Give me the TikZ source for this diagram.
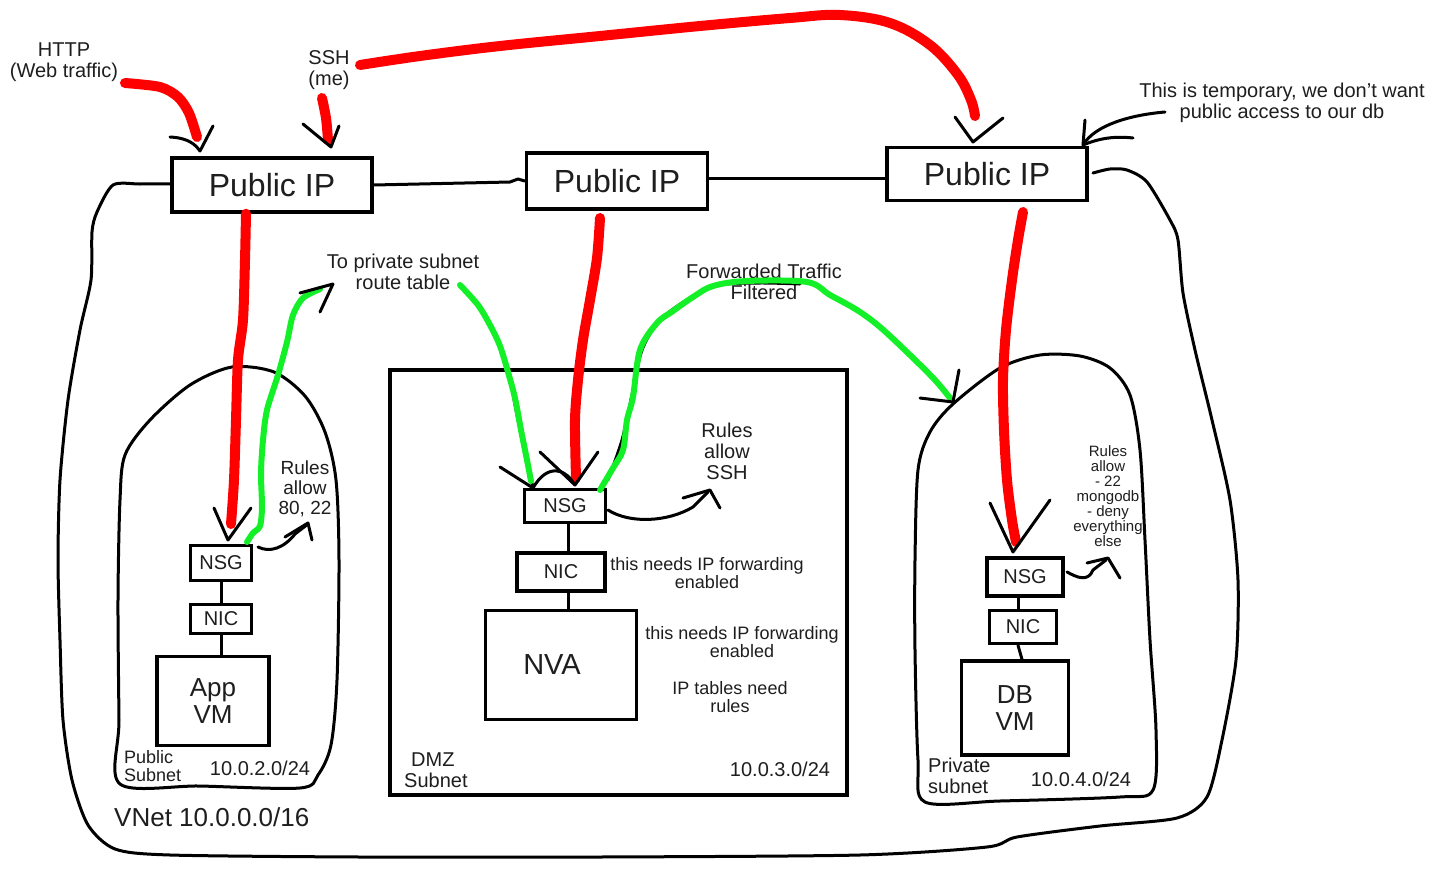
\documentclass[tikz,border=0pt]{standalone}
\usepackage{fontspec}
\setmainfont{Liberation Sans}
\definecolor{handgreen}{RGB}{20,240,40}
\definecolor{ink}{RGB}{30,30,30}
\tikzset{
  box/.style={draw, line width=3.5pt, inner sep=0pt, align=center, text=ink},
  pen/.style={line width=3pt, line cap=round, line join=round},
  redpen/.style={draw=red, line width=10pt, line cap=round, line join=round},
  greenpen/.style={draw=handgreen, line width=6pt, line cap=round, line join=round},
  lbl/.style={align=center, text=ink, inner sep=0pt},
  f32/.style={font=\fontsize{32}{34}\selectfont},
  f26/.style={font=\fontsize{26}{27}\selectfont},
  f29/.style={font=\fontsize{29}{30}\selectfont},
  f20/.style={font=\fontsize{20}{21}\selectfont},
  f19/.style={font=\fontsize{19}{20}\selectfont},
  f18/.style={font=\fontsize{18}{18}\selectfont},
  f15/.style={font=\fontsize{15}{15}\selectfont},
}
\begin{document}
\begin{tikzpicture}[x=1pt,y=-1pt]
\useasboundingbox[fill=white] (0,0) rectangle (1452,881);

% ---------- boxes ----------
\node[box,f32,minimum width=200pt,minimum height=54pt] (pip1) at (272,185) {Public IP};
\node[box,f32,minimum width=181pt,minimum height=56pt] (pip2) at (617,181) {Public IP};
\node[box,f32,minimum width=200pt,minimum height=53pt] (pip3) at (987,174) {Public IP};

\node[box,f20,minimum width=61pt,minimum height=35pt] (nsg1) at (221,563) {NSG};
\node[box,f20,minimum width=61pt,minimum height=29pt] (nic1) at (221,619) {NIC};
\node[box,f26,minimum width=112pt,minimum height=89pt] (vm1) at (213,701) {App\\VM};

\node[draw, line width=3.5pt, minimum width=457pt, minimum height=425pt, inner sep=0pt] (dmz) at (618.5,582.5) {};
\node[box,f20,minimum width=81pt,minimum height=33pt] (nsg2) at (565,506) {NSG};
\node[box,f20,minimum width=88pt,minimum height=38pt] (nic2) at (561,572) {NIC};
\node[box,f29,minimum width=151pt,minimum height=109pt] (nva) at (561,665) {NVA\hspace{18pt}};

\node[box,f20,minimum width=76pt,minimum height=38pt] (nsg3) at (1025,577) {NSG};
\node[box,f20,minimum width=67pt,minimum height=33pt] (nic3) at (1023,627) {NIC};
\node[box,f26,minimum width=107pt,minimum height=94pt] (vm3) at (1015,708) {DB\\VM};

% ---------- links between boxes ----------
\draw[pen] (pip1.east) -- (510,182) -- (518,179) -- (pip2.west);
\draw[pen] (pip2.east |- 0,178) -- (pip3.west |- 0,178);
\draw[pen] (nsg1) -- (nic1);
\draw[pen] (nic1) -- (vm1.north -| nic1);
\draw[pen] (nsg2.south -| 568,0) -- (nic2.north -| 568,0);
\draw[pen] (nic2.south -| 568,0) -- (nva.north -| 568,0);
\draw[pen] (nsg3.south -| 1018,0) -- (nic3.north -| 1018,0);
\draw[pen] (nic3.south -| 1018,0) -- (vm3.north -| 1022,0);

% ---------- VNet outline ----------
\coordinate (vstart) at (172,184);
\coordinate (vend) at (1093,173);
\draw[pen] plot[smooth,tension=0.45] coordinates {
  (vstart) (140,184) (113,185) (97,212) (92,232) (91,280) (80,330) (68,400) (60,480) (58,560)
  (60,640) (63,720) (72,780) (88,825) (115,849) (170,855) (360,857) (600,857)
  (860,855) (987,847) (1017,837) (1100,826) (1177,818) (1207,797) (1222,740)
  (1236,660) (1238,580) (1230,500) (1212,420) (1195,350) (1183,293) (1178,240)
  (1170,220) (1147,182) (1127,170) (1110,169) (vend)};
\node[lbl,f26,anchor=west] (vnetlbl) at (114,817) {VNet 10.0.0.0/16};

% ---------- Public subnet ----------
\draw[pen] plot[smooth cycle,tension=0.5] coordinates {
  (125,455) (150,420) (190,385) (232,367) (274,372) (305,396) (325,432) (336,480)
  (339,560) (337,680) (331,745) (318,775) (300,788) (200,786) (120,784) (119,720)
  (118,600) (120,500)};
\node[lbl,f18,anchor=west,align=left] (pubsub) at (124,766) {Public\\Subnet};
\node[lbl,f20] (pubcidr) at (260,768) {10.0.2.0/24};

% ---------- DMZ ----------
\node[lbl,f20,anchor=west,align=left] (dmzlbl) at (404,770) {\hspace{7pt}DMZ\\Subnet};
\node[lbl,f20] (dmzcidr) at (780,769) {10.0.3.0/24};

% ---------- Private subnet ----------
\draw[pen] plot[smooth cycle,tension=0.5] coordinates {
  (918,470) (930,432) (953,404) (1000,368) (1040,355) (1080,356) (1110,368)
  (1130,395) (1140,450) (1145,540) (1150,640) (1156,730) (1153,790) (1120,797)
  (1000,801) (925,802) (918,760) (915,650) (915,560)};
\node[lbl,f20,anchor=west,align=left] (privsub) at (928,776) {Private\\subnet};
\node[lbl,f20] (privcidr) at (1081,779) {10.0.4.0/24};

% ---------- labels ----------
\node[lbl,f20] (http) at (64,62) {HTTP\\(Web traffic)};
\node[lbl,f20] (ssh) at (329,70) {SSH\\(me)};
\node[lbl,f20] (temp) at (1282,103) {This is temporary, we don't want\\public access to our db};
\node[lbl,f20] (toprv) at (403,272) {To private subnet\\route table};
\node[lbl,f20] (fwd) at (764,282) {Forwarded Traffic\\Filtered};
\node[lbl,f19] (rules1) at (305,489) {Rules\\allow\\80, 22};
\node[lbl,f20] (rules2) at (727,451) {Rules\\allow\\SSH};
\node[lbl,f15] (rules3) at (1108,496) {Rules\\allow\\- 22\\mongodb\\- deny\\everything\\else};
\node[lbl,f18] (fwdnic) at (707,573) {this needs IP forwarding\\enabled};
\node[lbl,f18] (fwdnva) at (742,642) {this needs IP forwarding\\enabled};
\node[lbl,f18] (iptab) at (730,697) {IP tables need\\rules};

% ---------- red strokes ----------
\coordinate (httpA) at (125,83);
\coordinate (httpT) at (200,151);
\draw[redpen] plot[smooth] coordinates {(httpA) (160,87) (178,97) (189,113) (197,137)};
\draw[pen] (170,137) .. controls (188,138) and (195,144) .. (httpT) -- (213,126);

\coordinate (sshA) at (322,98);
\coordinate (sshT) at (331,147);
\draw[redpen] plot[smooth] coordinates {(sshA) (326,118) (328,140)};
\draw[pen] (303,124) -- (sshT) -- (339,126);

\coordinate (sshB) at (360,65);
\coordinate (sshBT) at (973,142);
\draw[redpen] plot[smooth,tension=0.6] coordinates {(sshB) (420,56) (500,46) (600,36) (700,26)
  (790,18) (840,15) (890,23) (930,45) (958,75) (971,100) (975,116)};
\draw[pen] (955,117) -- (sshBT) -- (1003,118);

\coordinate (r1T) at (228,540);
\draw[redpen] plot[smooth] coordinates {(pip1.south -| 246,0) (245,260) (243,320) (238,360)
  (236,420) (234,480) (231,524)};
\draw[pen] (214,508) -- (r1T) -- (251,508);

\coordinate (r2T) at (575,485);
\draw[redpen] plot[smooth] coordinates {(600,218) (597,258) (590,300) (583,340) (578,380)
  (575,420) (576,478)};
\draw[pen] (540,452) -- (r2T) -- (598,452);

\coordinate (r3T) at (1013,552);
\draw[redpen] plot[smooth] coordinates {(1023,212) (1018,240) (1012,280) (1006,330) (1003,380)
  (1004,430) (1007,480) (1012,520) (1016,542)};
\draw[pen] (990,503) -- (r3T) -- (1050,500);

% ---------- green strokes ----------
\coordinate (g1T) at (333,284);
\draw[greenpen] plot[smooth] coordinates {(247,542) (253,533) (260,526) (262,507) (261,473)
  (263,440) (267,410) (278,375) (287,342) (293,315) (303,298) (320,289)};
\draw[pen] (300,293) -- (g1T) -- (320,312);

\coordinate (g2A) at (460,285);
\coordinate (g2T) at (533,488);
\draw[pen] plot[smooth] coordinates {(482,310) (496,335) (508,370) (518,420) (528,465) (g2T)};
\draw[greenpen] plot[smooth] coordinates {(g2A) (478,305) (490,325) (500,346) (508,372)
  (515,398) (521,430) (527,460) (531,481)};
\draw[pen] (500,467) -- (g2T) .. controls (540,476) and (548,470) .. (557,471)
  .. controls (566,472) and (570,478) .. (r2T);

\coordinate (g3T) at (953,402);
\draw[pen] plot[smooth] coordinates {(608,480) (622,440) (632,395) (642,350) (660,320)
  (690,298) (720,285) (760,283) (800,284)};
\draw[greenpen] plot[smooth,tension=0.55] coordinates {(600,490) (613,468) (623,450) (627,420)
  (633,397) (640,350) (657,323) (673,311) (693,297) (713,286) (747,281) (807,282)
  (830,295) (857,310) (880,327) (910,355) (935,380) (950,398)};
\draw[pen] (920,398) -- (g3T) -- (959,370);

% ---------- black arrows to rules ----------
\draw[pen] (258,547) .. controls (270,553) and (284,548) .. (295,534) -- (308,524);
\draw[pen] (285,537) -- (308,523) -- (312,540);

\draw[pen] (608,510) .. controls (630,524) and (668,522) .. (693,507) -- (708,492);
\draw[pen] (683,498) -- (710,490) -- (720,508);

\draw[pen] (1067,572) .. controls (1078,578) and (1088,582) .. (1093,570) -- (1106,560);
\draw[pen] (1087,563) -- (1108,558) -- (1120,578);

\coordinate (tempA) at (1165,112);
\coordinate (tempT) at (1083,145);
\draw[pen] (tempA) .. controls (1130,115) and (1095,125) .. (tempT);
\draw[pen] (1085,120) -- (tempT) .. controls (1100,138) and (1115,136) .. (1133,138);
\end{tikzpicture}
\end{document}
